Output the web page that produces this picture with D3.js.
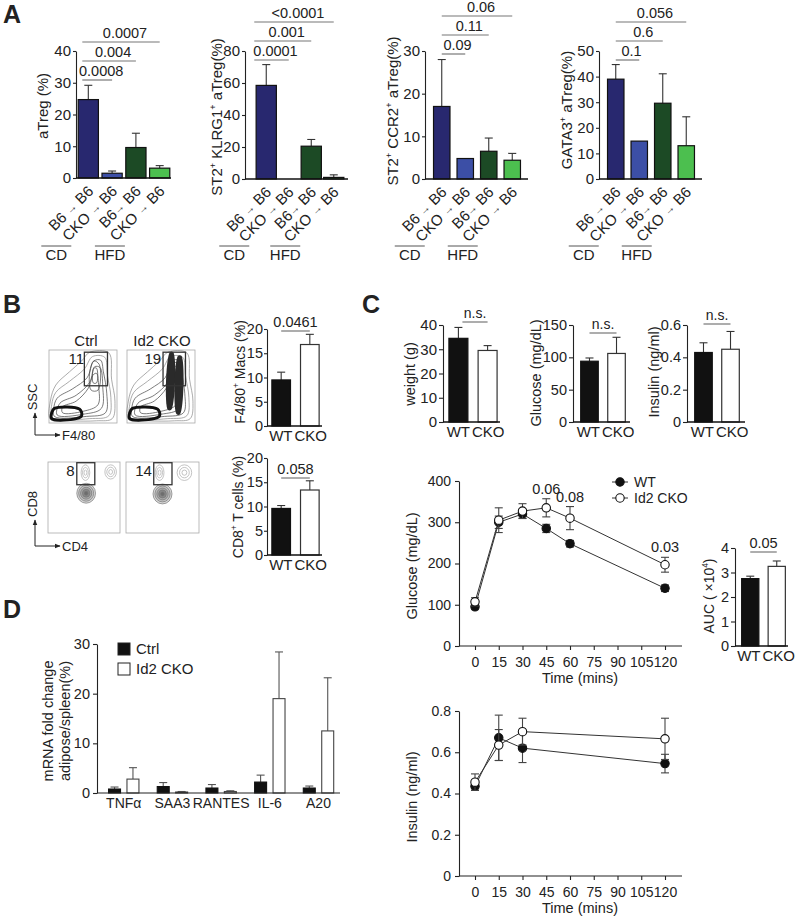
<!DOCTYPE html>
<html><head><meta charset="utf-8">
<script src="https://cdn.jsdelivr.net/npm/d3@7"></script>
<style>body{margin:0;background:#fff}svg{font-family:"Liberation Sans",Arial,Helvetica,sans-serif}</style>
</head><body><svg id="c" width="800" height="921"></svg>
<script>
// ---------------- DATA ----------------
const aCategories = ["B6 → B6", "CKO → B6", "B6→ B6", "CKO → B6"];
const aGroupLabels = ["CD", "HFD"];
const aTregMean = [24.7, 1.5, 9.6, 3.1];
const aTregErr  = [4.5, 0.7, 4.5, 0.8];
const aTregTicks = [0, 10, 20, 30, 40];
const aTregSig = [["0.0008", 0, 1], ["0.004", 0, 2], ["0.0007", 0, 3]];
const klrgMean = [58.5, 0, 20.5, 1.0];
const klrgErr  = [13, 0, 4.2, 1.6];
const klrgTicks = [0, 20, 40, 60, 80];
const klrgSig = [["0.0001", 0, 1], ["0.001", 0, 2], ["<0.0001", 0, 3]];
const ccr2Mean = [17, 4.8, 6.5, 4.4];
const ccr2Err  = [11, 0, 3.1, 1.6];
const ccr2Ticks = [0, 10, 20, 30];
const ccr2Sig = [["0.09", 0, 1], ["0.11", 0, 2], ["0.06", 0, 3]];
const gata3Mean = [39, 14.8, 29.6, 13];
const gata3Err  = [5.7, 0, 11.5, 11.3];
const gata3Ticks = [0, 10, 20, 30, 40, 50];
const gata3Sig = [["0.1", 0, 1], ["0.6", 0, 2], ["0.056", 0, 3]];

const genotypes = ["WT", "CKO"];
const flowGroups = ["Ctrl", "Id2 CKO"];
const macsGate = ["11", "19"];
const cd8Gate = ["8", "14"];
const macsMean = [9.5, 16.8];
const macsErr = [1.6, 2.1];
const macsTicks = [0, 5, 10, 15, 20];
const macsP = "0.0461";
const cd8Mean = [9.6, 13.4];
const cd8Err = [0.6, 1.9];
const cd8Ticks = [0, 5, 10, 15, 20];
const cd8P = "0.058";

const weightMean = [34.5, 29.5];
const weightErr = [4.5, 2.0];
const weightTicks = [0, 10, 20, 30, 40];
const fastGluMean = [94, 106];
const fastGluErr = [5, 25];
const fastGluTicks = [0, 50, 100, 150];
const fastInsMean = [0.43, 0.45];
const fastInsErr = [0.06, 0.11];
const fastInsTicks = [0, 0.2, 0.4, 0.6];

const gttTime = [0, 15, 30, 45, 60, 120];
const gttWT = [95, 300, 320, 285, 248, 140];
const gttWTErr = [5, 15, 10, 10, 8, 8];
const gttCKO = [107, 305, 327, 335, 310, 197];
const gttCKOErr = [10, 30, 18, 22, 28, 18];
const gttP = [["0.06", 45], ["0.08", 60], ["0.03", 120]];
const timeTicks = [0, 15, 30, 45, 60, 75, 90, 105, 120];
const gttTicks = [0, 100, 200, 300, 400];
const lineSeries = ["WT", "Id2 CKO"];

const aucMean = [2.75, 3.25];
const aucErr = [0.1, 0.22];
const aucTicks = [0, 1, 2, 3, 4];
const aucP = "0.05";

const insTime = [0, 15, 30, 120];
const insWT = [0.435, 0.67, 0.62, 0.545];
const insWTErr = [0.02, 0.11, 0.07, 0.045];
const insCKO = [0.455, 0.635, 0.70, 0.665];
const insCKOErr = [0.04, 0.075, 0.065, 0.1];
const insTicks = [0, 0.2, 0.4, 0.6, 0.8];

const mrnaGenes = ["TNFα", "SAA3", "RANTES", "IL-6", "A20"];
const mrnaCtrl = [0.8, 1.3, 1.0, 2.2, 1.0];
const mrnaCtrlErr = [0.4, 0.8, 0.7, 1.4, 0.4];
const mrnaCKO = [2.8, 0.2, 0.3, 19, 12.5];
const mrnaCKOErr = [2.3, 0.1, 0.15, 9.4, 10.7];
const mrnaTicks = [0, 10, 20, 30];
const mrnaLegend = ["Ctrl", "Id2 CKO"];

// flow cytometry contour outlines (normalized 0..1 plot coordinates)
const flowUpperContours = [
  [[.02,.05],[.3,.03],[.7,.03],[.93,.06],[.97,.3],[.92,.6],[.88,.96],[.6,.97],[.48,.85],[.3,.7],[.1,.52],[.02,.3]],
  [[.05,.07],[.6,.06],[.88,.1],[.91,.35],[.86,.65],[.82,.9],[.64,.91],[.52,.74],[.3,.57],[.1,.42],[.04,.25]],
  [[.08,.09],[.55,.09],[.83,.14],[.85,.4],[.8,.7],[.76,.86],[.66,.85],[.56,.62],[.35,.47],[.12,.34],[.07,.2]],
  [[.12,.11],[.5,.12],[.77,.2],[.79,.5],[.75,.76],[.67,.77],[.6,.56],[.4,.38],[.16,.27]],
  [[.2,.14],[.5,.16],[.72,.25],[.73,.5],[.7,.68],[.65,.66],[.58,.48],[.4,.3],[.2,.22]],
  [[.62,.45],[.72,.45],[.74,.8],[.66,.85],[.6,.7]],
  [[.65,.55],[.7,.55],[.7,.75],[.66,.75]]
];
const flowUpperDense = [[.04,.06],[.4,.06],[.48,.1],[.45,.19],[.08,.2],[.04,.14]];
const flowUpperStreaks = [
  [[.6,.18],[.65,.18],[.68,.97],[.63,.97]],
  [[.73,.12],[.78,.12],[.8,.92],[.75,.92]]
];
const flowLowerBlobsCtrl = [[.53, .56, .13, .14, 5], [.52, .85, .06, .11, 3], [.87, .86, .08, .1, 3]];
const flowLowerBlobsCKO = [[.5, .55, .13, .14, 5], [.46, .85, .06, .11, 3], [.8, .85, .1, .11, 3]];

// ---------------- DRAWING ----------------
const FONT = '"Liberation Sans", Arial, Helvetica, sans-serif';
const svg = d3.select('#c');
const INK = '#222';

function supText(sel, str, size) {
  const supMap = {'⁺': '+', '⁴': '4'};
  const shift = size * 0.4;
  let buf = '', parts = [];
  for (const ch of str) {
    if (supMap[ch]) { if (buf) parts.push([buf, false]); buf = ''; parts.push([supMap[ch], true]); }
    else buf += ch;
  }
  if (buf) parts.push([buf, false]);
  let shifted = false;
  parts.forEach(([t, s]) => {
    const ts = sel.append('tspan').text(t);
    if (s) { ts.attr('font-size', size * 0.6).attr('dy', -shift); shifted = true; }
    else if (shifted) { ts.attr('dy', shift); shifted = false; }
  });
}
function rotTitle(x, cy, str, size) {
  const t = svg.append('text').attr('transform', `translate(${x},${cy}) rotate(-90)`)
    .attr('text-anchor', 'middle').attr('dy', '0.35em').attr('font-size', size).attr('fill', INK);
  supText(t, str, size);
}
function txt(x, y, s, size, anchor = 'middle', weight = 'normal') {
  return svg.append('text').attr('x', x).attr('y', y).attr('font-size', size).attr('text-anchor', anchor)
    .attr('font-weight', weight).attr('fill', INK).text(s);
}
function styleAxis(a, fs) {
  a.attr('font-family', FONT).attr('font-size', fs);
  a.select('.domain').attr('stroke', INK).attr('stroke-width', 1.1);
  a.selectAll('.tick line').attr('stroke', INK).attr('stroke-width', 1.1);
  a.selectAll('.tick text').attr('fill', INK);
}
function errBar(g, x, yTop, yBot, cap, col = '#333') {
  g.append('line').attr('x1', x).attr('x2', x).attr('y1', yTop).attr('y2', yBot).attr('stroke', col).attr('stroke-width', 1.1);
  g.append('line').attr('x1', x - cap / 2).attr('x2', x + cap / 2).attr('y1', yTop).attr('y2', yTop).attr('stroke', col).attr('stroke-width', 1.1);
}

function barChart(o) {
  const n = o.means.length;
  const x = d3.scaleBand().domain(d3.range(n)).range(o.range).paddingInner(o.pi).paddingOuter(o.po);
  const y = d3.scaleLinear().domain([0, o.max]).range([o.y0, o.yTop]);
  const g = svg.append('g');
  const ya = g.append('g').attr('transform', `translate(${o.axisX},0)`)
    .call(d3.axisLeft(y).tickValues(o.ticks).tickSize(o.ts || 4).tickSizeOuter(0).tickPadding(o.tp || 2)
      .tickFormat(o.fmt || (d => d)));
  styleAxis(ya, o.fs || 15);
  o.means.forEach((m, i) => {
    if (o.errs[i] > 0) errBar(g, x(i) + x.bandwidth() / 2, y(m + o.errs[i]), y(m), 8);
  });
  g.selectAll('rect.bar').data(o.means).join('rect').attr('class', 'bar')
    .attr('x', (d, i) => x(i)).attr('y', d => y(d)).attr('width', x.bandwidth())
    .attr('height', d => o.y0 - y(d))
    .attr('fill', (d, i) => o.fills[i]).attr('stroke', (d, i) => o.strokes[i]).attr('stroke-width', 1.2);
  g.append('line').attr('x1', o.axisX).attr('x2', o.xEnd).attr('y1', o.y0).attr('y2', o.y0)
    .attr('stroke', '#111').attr('stroke-width', o.xw || 1.6);
  if (o.labels) {
    const mid = (x(0) + x(1) + x.bandwidth()) / 2;
    txt(mid - 3, o.y0 + 15, o.labels[0], 15, 'end');
    txt(mid - 1, o.y0 + 15, o.labels[1], 15, 'start');
  }
  return {x, y, g};
}
function sigLine(c, i, j, yy, label, dxStart = 0, tdx = 3, fs = 14.5) {
  const cx = k => c.x(k) + c.x.bandwidth() / 2;
  const x1 = cx(i) + dxStart, x2 = cx(j);
  svg.append('line').attr('x1', x1).attr('x2', x2).attr('y1', yy).attr('y2', yy)
    .attr('stroke', '#777').attr('stroke-width', 1.2);
  txt((x1 + x2) / 2 + tdx, yy - 4, label, fs);
}

// ---- Panel A ----
const aFills = ['#28286f', '#3c4fa6', '#1c4a25', '#4cbf4f'];
const aStrokes = ['#111', '#111', '#111', '#111'];
function aPanel(o, mean, err, ticks, sig, title, titleX, titleCY, titleFs) {
  const c = barChart(Object.assign({means: mean, errs: err, ticks, fills: aFills, strokes: aStrokes, y0: 178, yTop: 51, fs: 15, ts: 3, tp: 2}, o));
  sig.forEach(([lab, i, j], k) => sigLine(c, i, j, o.sigBase - k * 19, lab, o.sigDx || 0, 4, 14.5));
  aCategories.forEach((cat, i) => {
    const cx = c.x(i) + c.x.bandwidth() / 2;
    const t = svg.append('text').attr('transform', `translate(${cx + 6},${o.y0 + 14}) rotate(-45)`)
      .attr('text-anchor', 'end').attr('font-size', 15).attr('fill', INK);
    const parts = cat.split('→');
    t.append('tspan').text(parts[0]);
    t.append('tspan').attr('font-size', 11).attr('dy', -1).text('→');
    t.append('tspan').attr('dy', 1).text(parts[1]);
  });
  const c0 = c.x(0) + c.x.bandwidth() / 2 - 32, c2 = c.x(2) + c.x.bandwidth() / 2 - 26;
  [[c0, aGroupLabels[0]], [c2, aGroupLabels[1]]].forEach(([gx, lab]) => {
    svg.append('line').attr('x1', gx - 15).attr('x2', gx + 15).attr('y1', 246).attr('y2', 246).attr('stroke', '#555').attr('stroke-width', 1);
    txt(gx, 260, lab, 15);
  });
  rotTitle(titleX, titleCY, title, titleFs);
}
aPanel({axisX: 76, xEnd: 171, y0: 178, range: [77, 171], pi: 0.15, po: 0.05, max: 40, sigBase: 80, sigDx: -6},
  aTregMean, aTregErr, aTregTicks, aTregSig, 'aTreg (%)', 43, 106, 15);
aPanel({axisX: 245, xEnd: 348, y0: 179, yTop: 51, range: [255, 345], pi: 0.1, po: 0.05, max: 80, sigBase: 60, sigDx: -12},
  klrgMean, klrgErr, klrgTicks, klrgSig, 'ST2⁺ KLRG1⁺ aTreg(%)', 217, 117, 15);
aPanel({axisX: 425, xEnd: 528, y0: 179, yTop: 51, range: [430, 524], pi: 0.3, po: 0.15, max: 30, sigBase: 54},
  ccr2Mean, ccr2Err, ccr2Ticks, ccr2Sig, 'ST2⁺ CCR2⁺ aTreg(%)', 393, 111, 15);
aPanel({axisX: 599, xEnd: 702, y0: 179, yTop: 51, range: [604, 698], pi: 0.3, po: 0.15, max: 50, sigBase: 60},
  gata3Mean, gata3Err, gata3Ticks, gata3Sig, 'GATA3⁺ aTreg(%)', 567, 110, 15);

// ---- Panel letters ----
txt(3, 23, 'A', 25, 'start', 'bold');
txt(3, 313, 'B', 25, 'start', 'bold');
txt(362, 313, 'C', 25, 'start', 'bold');
txt(3, 618, 'D', 25, 'start', 'bold');

// ---- Panel B flow plots ----
svg.append('defs').append('marker').attr('id', 'arr').attr('viewBox', '0 0 10 10').attr('refX', 9).attr('refY', 5)
  .attr('markerWidth', 6).attr('markerHeight', 6).attr('orient', 'auto')
  .append('path').attr('d', 'M0,1 L10,5 L0,9 Z').attr('fill', '#222');

function flowPlot(box, kind, gate, num, numPos, streaks) {
  const [x0, y0, x1, y1] = box;
  const fx = d3.scaleLinear().domain([0, 1]).range([x0, x1]);
  const fy = d3.scaleLinear().domain([0, 1]).range([y1, y0]);
  const g = svg.append('g');
  g.append('rect').attr('x', x0).attr('y', y0).attr('width', x1 - x0).attr('height', y1 - y0)
    .attr('fill', '#fff').attr('stroke', '#aaa').attr('stroke-width', 0.8);
  const line = d3.line().x(d => fx(d[0])).y(d => fy(d[1])).curve(d3.curveCatmullRomClosed.alpha(0.5));
  if (kind === 'upper') {
    flowUpperContours.forEach((c, k) => g.append('path').attr('d', line(c)).attr('fill', 'none')
      .attr('stroke', k < 2 ? '#888' : '#444').attr('stroke-width', 0.7));
    g.append('path').attr('d', line(flowUpperDense)).attr('fill', 'none').attr('stroke', '#111').attr('stroke-width', 3);
    if (streaks) streaks.forEach(s => g.append('path').attr('d', line(s)).attr('fill', '#2a2a2a'));
  } else {
    kind.forEach(([cx, cy, rx, ry, lv], bi) => {
      d3.range(lv).forEach(k => {
        const f = 1 - k / lv;
        g.append('ellipse').attr('cx', fx(cx)).attr('cy', fy(cy))
          .attr('rx', (fx(rx) - fx(0)) * f).attr('ry', (fy(0) - fy(ry)) * f)
          .attr('fill', bi === 0 ? d3.interpolateGreys(0.25 + 0.1 * k) : 'none')
          .attr('stroke', bi === 0 ? '#777' : '#aaa').attr('stroke-width', 0.7);
      });
    });
  }
  g.append('rect').attr('x', fx(gate[0])).attr('y', fy(gate[3])).attr('width', fx(gate[2]) - fx(gate[0]))
    .attr('height', fy(gate[1]) - fy(gate[3])).attr('fill', 'none').attr('stroke', '#333').attr('stroke-width', 1.3);
  txt(fx(numPos[0]), fy(numPos[1]) + 5, num, 15);
}
flowPlot([49, 350, 117, 423], 'upper', [.52, .51, .86, .97], macsGate[0], [.4, .87], null);
flowPlot([127, 350, 195, 423], 'upper', [.53, .51, .86, .97], macsGate[1], [.38, .87], flowUpperStreaks);
flowPlot([48, 462, 120, 533], flowLowerBlobsCtrl, [.40, .68, .65, .99], cd8Gate[0], [.31, .87]);
flowPlot([126, 462, 199, 533], flowLowerBlobsCKO, [.38, .68, .63, .99], cd8Gate[1], [.24, .87]);
txt(86, 346, flowGroups[0], 15);
txt(162, 346, flowGroups[1], 15);
function axArrows(ox, oy, up, right, vLab, hLab) {
  svg.append('line').attr('x1', ox).attr('y1', oy).attr('x2', ox).attr('y2', oy - up).attr('stroke', '#222').attr('marker-end', 'url(#arr)');
  svg.append('line').attr('x1', ox).attr('y1', oy).attr('x2', ox + right).attr('y2', oy).attr('stroke', '#222').attr('marker-end', 'url(#arr)');
  rotTitle(ox - 3, oy - up - 16, vLab, 13);
  txt(ox + right + 2, oy + 5, hLab, 13, 'start');
}
axArrows(35, 435, 22, 25, 'SSC', 'F4/80');
axArrows(35, 546, 26, 25, 'CD8', 'CD4');

// ---- Panel B bars ----
const wFills = ['#111', '#fff'], wStrokes = ['#111', '#333'];
const bm = barChart({axisX: 267, xEnd: 322, y0: 426, yTop: 329, range: [269, 322], pi: 0.35, po: 0.1, max: 20,
  ticks: macsTicks, means: macsMean, errs: macsErr, fills: wFills, strokes: wStrokes, labels: genotypes, fs: 14.5, ts: 3, tp: 1});
sigLine(bm, 0, 1, 331, macsP, 0, 0);
rotTitle(240, 372, 'F4/80⁺ Macs (%)', 14);
const bc = barChart({axisX: 267, xEnd: 322, y0: 555, yTop: 458, range: [269, 322], pi: 0.35, po: 0.1, max: 20,
  ticks: cd8Ticks, means: cd8Mean, errs: cd8Err, fills: wFills, strokes: wStrokes, labels: genotypes, fs: 14.5, ts: 3, tp: 1});
sigLine(bc, 0, 1, 478, cd8P, 0, 0);
rotTitle(238, 507, 'CD8⁺ T cells (%)', 14);

// ---- Panel C top bars ----
const cw = barChart({axisX: 443, xEnd: 500, y0: 422, yTop: 325, range: [446, 500], pi: 0.35, po: 0.1, max: 40,
  ticks: weightTicks, means: weightMean, errs: weightErr, fills: wFills, strokes: wStrokes, labels: genotypes, fs: 15});
sigLine(cw, 0, 1, 322, 'n.s.', 4, 0, 14);
rotTitle(410, 374, 'weight (g)', 14.5);
const cg = barChart({axisX: 573, xEnd: 630, y0: 422, yTop: 325, range: [578, 628], pi: 0.35, po: 0.1, max: 150,
  ticks: fastGluTicks, means: fastGluMean, errs: fastGluErr, fills: wFills, strokes: wStrokes, labels: genotypes, fs: 14.5});
sigLine(cg, 0, 1, 333, 'n.s.', 0, 0, 14);
rotTitle(536, 373, 'Glucose (mg/dL)', 14.5);
const ci = barChart({axisX: 687, xEnd: 745, y0: 422, yTop: 325, range: [692, 742], pi: 0.35, po: 0.1, max: 0.6,
  ticks: fastInsTicks, means: fastInsMean, errs: fastInsErr, fills: wFills, strokes: wStrokes, labels: genotypes, fs: 14.5});
sigLine(ci, 0, 1, 324, 'n.s.', 0, 0, 14);
rotTitle(654, 372, 'Insulin (ng/ml)', 14.5);

// ---- Line charts ----
function lineChart(o) {
  const x = d3.scaleLinear().domain([0, 120]).range([475, 665]);
  const y = d3.scaleLinear().domain([0, o.max]).range([o.y0, o.yTop]);
  const xa = svg.append('g').attr('transform', `translate(0,${o.y0})`)
    .call(d3.axisBottom(x).tickValues(timeTicks).tickSize(4).tickSizeOuter(0).tickPadding(7));
  styleAxis(xa, 14);
  xa.select('.domain').remove();
  svg.append('line').attr('x1', 459).attr('x2', 682).attr('y1', o.y0).attr('y2', o.y0).attr('stroke', INK).attr('stroke-width', 1.1);
  const ya = svg.append('g').attr('transform', 'translate(459,0)')
    .call(d3.axisLeft(y).tickValues(o.ticks).tickSize(4).tickSizeOuter(0).tickPadding(4).tickFormat(o.fmt));
  styleAxis(ya, 14);
  const ln = d3.line().x((d, i) => x(o.time[i])).y(d => y(d));
  [[o.wt, o.wtErr, '#111'], [o.cko, o.ckoErr, '#fff']].forEach(([vals, errs, fill]) => {
    svg.append('path').attr('d', ln(vals)).attr('fill', 'none').attr('stroke', '#333').attr('stroke-width', 1);
    vals.forEach((v, i) => {
      const g = svg.append('g');
      errBar(g, x(o.time[i]), y(v + errs[i]), y(v), 8, '#444');
      errBar(g, x(o.time[i]), y(v - errs[i]), y(v), 8, '#444');
    });
    svg.selectAll(null).data(vals).join('circle').attr('cx', (d, i) => x(o.time[i])).attr('cy', d => y(d))
      .attr('r', 4.2).attr('fill', fill).attr('stroke', '#111').attr('stroke-width', 1.1);
  });
  txt(580, o.y0 + 37, 'Time (mins)', 14.5);
  return {x, y};
}
const gl = lineChart({y0: 646, yTop: 481, max: 400, ticks: gttTicks, fmt: d => d, time: gttTime,
  wt: gttWT, wtErr: gttWTErr, cko: gttCKO, ckoErr: gttCKOErr});
gttP.forEach(([lab, t]) => {
  const i = gttTime.indexOf(t);
  txt(gl.x(t), gl.y(gttCKO[i] + gttCKOErr[i]) - 5, lab, 14.5);
});
rotTitle(412, 566, 'Glucose (mg/dL)', 14.5);
lineSeries.forEach((s, k) => {
  const ly = 482 + k * 16;
  svg.append('line').attr('x1', 612).attr('x2', 628).attr('y1', ly).attr('y2', ly).attr('stroke', '#333');
  svg.append('circle').attr('cx', 620).attr('cy', ly).attr('r', 4.2).attr('fill', k ? '#fff' : '#111').attr('stroke', '#111').attr('stroke-width', 1.1);
  txt(634, ly + 5, s, 14, 'start');
});
const il = lineChart({y0: 876, yTop: 711, max: 0.8, ticks: insTicks, fmt: d => d === 0 ? '0' : d3.format('.1f')(d),
  time: insTime, wt: insWT, wtErr: insWTErr, cko: insCKO, ckoErr: insCKOErr});
rotTitle(412, 797, 'Insulin (ng/ml)', 14.5);

// AUC
const ca = barChart({axisX: 735, xEnd: 788, y0: 646, yTop: 548, range: [739, 788], pi: 0.35, po: 0.1, max: 4,
  ticks: aucTicks, means: aucMean, errs: aucErr, fills: wFills, strokes: wStrokes, labels: genotypes, fs: 14.5});
sigLine(ca, 0, 1, 552, aucP, 0, 0, 14.5);
rotTitle(709, 596, 'AUC ( ×10⁴)', 14);

// ---- Panel D ----
(function () {
  const x0 = d3.scaleBand().domain(mrnaGenes).range([99.4, 342.85]).paddingInner(0.3).paddingOuter(0.15);
  const x1 = d3.scaleBand().domain(mrnaLegend).range([0, x0.bandwidth()]).paddingInner(0.35).paddingOuter(0.1);
  const y = d3.scaleLinear().domain([0, 30]).range([793, 644]);
  const ya = svg.append('g').attr('transform', 'translate(97,0)')
    .call(d3.axisLeft(y).tickValues(mrnaTicks).tickSize(4).tickSizeOuter(0).tickPadding(3));
  styleAxis(ya, 14.5);
  const series = [[mrnaCtrl, mrnaCtrlErr, '#111', '#111'], [mrnaCKO, mrnaCKOErr, '#fff', '#444']];
  series.forEach(([vals, errs, fill, stroke], s) => {
    vals.forEach((v, i) => {
      const bx = x0(mrnaGenes[i]) + x1(mrnaLegend[s]);
      errBar(svg, bx + x1.bandwidth() / 2, y(v + errs[i]), y(v), 8, '#555');
      svg.append('rect').attr('x', bx).attr('y', y(v)).attr('width', x1.bandwidth()).attr('height', 793 - y(v))
        .attr('fill', fill).attr('stroke', stroke).attr('stroke-width', 1.1);
    });
  });
  svg.append('line').attr('x1', 97).attr('x2', 340).attr('y1', 793).attr('y2', 793).attr('stroke', INK).attr('stroke-width', 1.2);
  mrnaGenes.forEach(gn => txt(x0(gn) + x0.bandwidth() / 2, 808, gn, 14));
  mrnaLegend.forEach((l, k) => {
    svg.append('rect').attr('x', 118).attr('y', 643 + k * 20).attr('width', 12).attr('height', 12)
      .attr('fill', k ? '#fff' : '#111').attr('stroke', '#222').attr('stroke-width', 1);
    txt(136, 654 + k * 20, l, 15, 'start');
  });
  rotTitle(48, 721, 'mRNA fold change', 14.5);
  rotTitle(65, 721, 'adipose/spleen(%)', 14.5);
})();
</script></body></html>
